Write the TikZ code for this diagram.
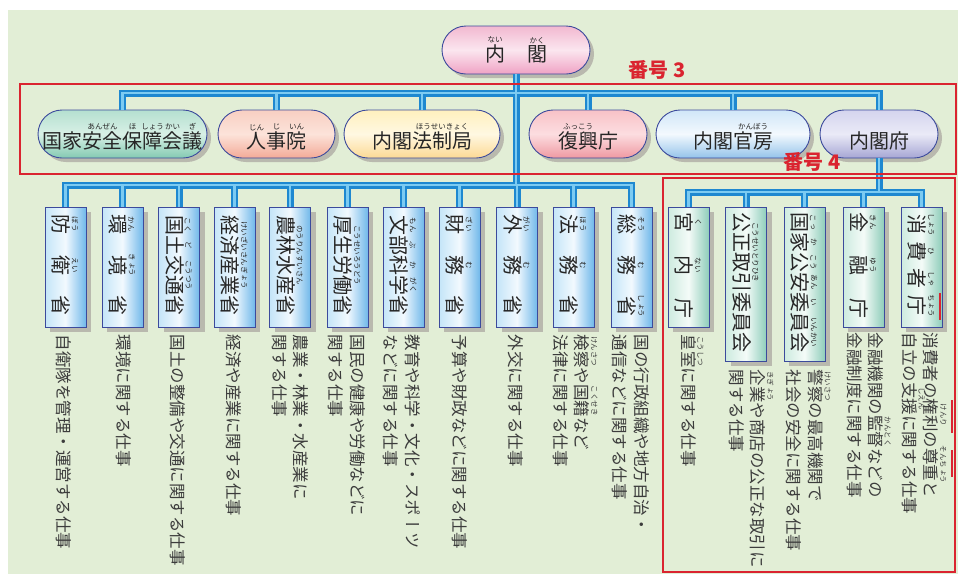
\documentclass[tikz,border=0pt]{standalone}
\usepackage{fontspec}
\setmainfont{Noto Sans CJK JP}
\newfontfamily\vjp[Vertical=RotatedGlyphs]{Noto Sans CJK JP}
\usetikzlibrary{shadows,calc}

\definecolor{bgC}{HTML}{E2EED6}
\definecolor{edgeC}{HTML}{3C4A9C}
\definecolor{shadowC}{HTML}{B9B9AE}
\definecolor{pipeD}{HTML}{1E88D0}
\definecolor{pipeL}{HTML}{7CCBF2}
\definecolor{redC}{HTML}{DA2430}
\definecolor{descC}{HTML}{3C3C3C}
\definecolor{pinkT}{HTML}{F2B8D0}
\definecolor{pinkM}{HTML}{FBE6EF}
\definecolor{pinkB}{HTML}{EFA2C4}
\definecolor{tealT}{HTML}{B5E0D0}
\definecolor{tealM}{HTML}{D8F0E6}
\definecolor{tealB}{HTML}{84CAB2}
\definecolor{peachT}{HTML}{F8CFC2}
\definecolor{peachM}{HTML}{FCE3DA}
\definecolor{peachB}{HTML}{F3AA97}
\definecolor{yelT}{HTML}{FFF0BE}
\definecolor{yelM}{HTML}{FFF8E2}
\definecolor{yelB}{HTML}{FCD994}
\definecolor{roseT}{HTML}{F8C2C7}
\definecolor{roseM}{HTML}{FCDDE0}
\definecolor{roseB}{HTML}{EF99A2}
\definecolor{skyT}{HTML}{D0E6F8}
\definecolor{skyM}{HTML}{F3F9FE}
\definecolor{skyB}{HTML}{94C3EA}
\definecolor{lavT}{HTML}{D4D4EE}
\definecolor{lavM}{HTML}{EAEAF7}
\definecolor{lavB}{HTML}{A6A6D4}
\definecolor{mboxL}{HTML}{C4E5F8}
\definecolor{mboxM}{HTML}{F2F9FE}
\definecolor{mboxR}{HTML}{70B8EA}
\definecolor{rboxL}{HTML}{CDEBDF}
\definecolor{rboxM}{HTML}{F4FBF8}
\definecolor{rboxR}{HTML}{8ECDBA}

\newcommand\furi[2]{\leavevmode\begingroup
  \setbox0\hbox{#1}%
  \setbox2\hbox{\fontsize{7.5}{7.5}\selectfont #2}%
  \setbox2\hbox{\raise\dimexpr\ht0+\dp2+1.2pt\relax\box2}%
  \ht2=0pt \dp2=0pt
  \hbox to\wd0{\hss\box2\hss}\kern-\wd0 \box0\endgroup}

\begin{document}
\begin{tikzpicture}[x=1pt,y=-1pt,
  pill/.style={rectangle, rounded corners=24pt, draw=edgeC, line width=0.9pt,
    minimum height=48pt, inner sep=0pt, text=black!85,
    font=\fontsize{20}{20}\selectfont, text height=30pt, text depth=2pt,
    drop shadow={shadow xshift=4pt, shadow yshift=-4pt, fill=shadowC, opacity=1}},
  mbox/.style={rectangle, draw=edgeC, line width=0.9pt, minimum width=41pt,
    minimum height=120pt, inner sep=0pt,
    left color=mboxL, right color=mboxR, middle color=mboxM,
    drop shadow={shadow xshift=5pt, shadow yshift=-5pt, fill=shadowC, opacity=1}},
  rbox/.style={mbox, left color=rboxL, right color=rboxR, middle color=rboxM},
  vtitle/.style={rotate=-90, inner sep=0pt, text=black!85,
    font=\vjp\fontsize{20}{20}\selectfont},
  desc/.style={rotate=-90, anchor=west, inner sep=0pt, align=left, text=descC,
    font=\vjp\fontsize{16.5}{21.5}\selectfont},
  pipeo/.style={draw=pipeD, line width=7pt},
  pipei/.style={draw=pipeL, line width=2.2pt},
  frame/.style={draw=redC, line width=2pt},
  redtick/.style={draw=redC, line width=2pt},
  lbl/.style={text=redC, inner sep=0pt, font=\bfseries\fontsize{20}{20}\selectfont}]

    \useasboundingbox (0,0) rectangle (958,574);
    \fill[white] (0,0) rectangle (958,574);
    \fill[bgC] (8,10) rectangle (958,574);

    \node[pill, minimum width=148pt, text height=24pt, top color=pinkT, bottom color=pinkB, middle color=pinkM] (naikaku) at (516,50) {\furi{内}{ない}\hspace{22pt}\furi{閣}{かく}};

    \node[pill, minimum width=169pt, top color=tealT, bottom color=tealB, middle color=tealM] (anpo) at (122.5,134) {国家\furi{安全}{あんぜん}\furi{保}{ほ}\furi{障}{しょう}\furi{会}{かい}\furi{議}{ぎ}};
    \node[pill, minimum width=117pt, top color=peachT, bottom color=peachB, middle color=peachM] (jinjiin) at (276.5,134) {\furi{人}{じん}\furi{事}{じ}\furi{院}{いん}};
    \node[pill, minimum width=156pt, top color=yelT, bottom color=yelB, middle color=yelM] (hosei) at (422,134) {内閣\furi{法制局}{ほうせいきょく}};
    \node[pill, minimum width=118pt, top color=roseT, bottom color=roseB, middle color=roseM] (fukko) at (588,134) {\furi{復興}{ふっこう}庁};
    \node[pill, minimum width=154pt, top color=skyT, bottom color=skyB, middle color=skyM] (kanbo) at (733,134) {内閣\furi{官房}{かんぼう}};
    \node[pill, minimum width=118pt, top color=lavT, bottom color=lavB, middle color=lavM] (naikakufu) at (879,134) {内閣府};

    \node[mbox] (boei) at (65.5,267) {};
    \node[mbox] (kankyo) at (122.5,267) {};
    \node[mbox] (kokudo) at (179,267) {};
    \node[mbox] (keisan) at (234.5,267) {};
    \node[mbox] (norin) at (290,267) {};
    \node[mbox] (kosei) at (347.5,267) {};
    \node[mbox] (monka) at (403.5,267) {};
    \node[mbox] (zaimu) at (459.5,267) {};
    \node[mbox] (gaimu) at (517,267) {};
    \node[mbox] (homu) at (573.5,267) {};
    \node[mbox] (somu) at (631.5,267) {};

    \node[rbox] (kunai) at (688.5,267) {};
    \node[rbox, minimum height=154pt] (kotori) at (746,284) {};
    \node[rbox, minimum height=154pt] (kokko) at (804.5,284) {};
    \node[rbox] (kinyu) at (863.5,267) {};
    \node[rbox] (shohi) at (921.5,267) {};

    \node[vtitle] (boeiT) at ($(boei)+(-4,-2)$) {\furi{防}{ぼう}\hspace{21pt}\furi{衛}{えい}\hspace{21pt}省};
    \node[vtitle] (kankyoT) at ($(kankyo)+(-4,-2)$) {\furi{環}{かん}\hspace{21pt}\furi{境}{きょう}\hspace{21pt}省};
    \node[vtitle] (kokudoT) at ($(kokudo)+(-4,-2)$) {\furi{国}{こく}\furi{土}{ど}\furi{交通}{こうつう}省};
    \node[vtitle] (keisanT) at ($(keisan)+(-4,-2)$) {\furi{経済産業}{けいざいさんぎょう}省};
    \node[vtitle] (norinT) at ($(norin)+(-4,-2)$) {\furi{農林水産}{のうりんすいさん}省};
    \node[vtitle] (koseiT) at ($(kosei)+(-4,-2)$) {\furi{厚生労働}{こうせいろうどう}省};
    \node[vtitle] (monkaT) at ($(monka)+(-4,-2)$) {\furi{文}{もん}\furi{部}{ぶ}\furi{科}{か}\furi{学}{がく}省};
    \node[vtitle] (zaimuT) at ($(zaimu)+(-4,-2)$) {\furi{財}{ざい}\hspace{21pt}\furi{務}{む}\hspace{21pt}省};
    \node[vtitle] (gaimuT) at ($(gaimu)+(-4,-2)$) {\furi{外}{がい}\hspace{21pt}\furi{務}{む}\hspace{21pt}省};
    \node[vtitle] (homuT) at ($(homu)+(-4,-2)$) {\furi{法}{ほう}\hspace{21pt}\furi{務}{む}\hspace{21pt}省};
    \node[vtitle] (somuT) at ($(somu)+(-4,-2)$) {\furi{総}{そう}\hspace{21pt}\furi{務}{む}\hspace{21pt}\furi{省}{しょう}};

    \node[vtitle] (kunaiT) at ($(kunai)+(-4,-2)$) {\furi{宮}{く}\hspace{23pt}\furi{内}{ない}\hspace{23pt}庁};
    \node[vtitle] (kotoriT) at ($(kotori)+(-4,-2)$) {\furi{公正取引}{こうせいとりひき}委員会};
    \node[vtitle] (kokkoT) at ($(kokko)+(-4,-2)$) {\furi{国}{こっ}\furi{家}{か}\furi{公}{こう}\furi{安}{あん}\furi{委}{い}\furi{員会}{いんかい}};
    \node[vtitle] (kinyuT) at ($(kinyu)+(-4,-2)$) {\furi{金}{きん}\hspace{23pt}\furi{融}{ゆう}\hspace{23pt}庁};
    \node[vtitle] (shohiT) at ($(shohi)+(-4,-2)$) {\furi{消}{しょう}\hspace{7pt}\furi{費}{ひ}\hspace{7pt}\furi{者}{しゃ}\hspace{7pt}\furi{庁}{ちょう}};

    \node[desc] (boeiD) at ($(boei.south)+(-1.5,7)$) {自衛隊を管理・運営する仕事};
    \node[desc] (kankyoD) at ($(kankyo.south)+(1,7)$) {環境に関する仕事};
    \node[desc] (kokudoD) at ($(kokudo.south)+(-1.5,7)$) {国土の整備や交通に関する仕事};
    \node[desc] (keisanD) at ($(keisan.south)+(-0.5,7)$) {経済や産業に関する仕事};
    \node[desc] (norinD) at ($(norin.south)+(0,7)$) {農業・林業・水産業に\\関する仕事};
    \node[desc] (koseiD) at ($(kosei.south)+(-1,7)$) {国民の健康や労働などに\\関する仕事};
    \node[desc] (monkaD) at ($(monka.south)+(-1.5,7)$) {教育や科学・文化・スポーツ\\などに関する仕事};
    \node[desc] (zaimuD) at ($(zaimu.south)+(0.5,7)$) {予算や財政などに関する仕事};
    \node[desc] (gaimuD) at ($(gaimu.south)+(-1.5,7)$) {外交に関する仕事};
    \node[desc] (homuD) at ($(homu.south)+(-2,7)$) {\furi{検察}{けんさつ}や\furi{国籍}{こくせき}など\\法律に関する仕事};
    \node[desc] (somuD) at ($(somu.south)+(-0.5,7)$) {国の行政組織や地方自治・\\通信などに関する仕事};

    \node[desc] (kunaiD) at ($(kunai.south)+(0,7)$) {\furi{皇室}{こうしつ}に関する仕事};
    \node[desc] (kotoriD) at ($(kotori.south)+(1.5,8)$) {\furi{企業}{きぎょう}や商店の公正な取引に\\関する仕事};
    \node[desc] (kokkoD) at ($(kokko.south)+(0.5,8)$) {\furi{警察}{けいさつ}の最高機関で\\社会の安全に関する仕事};
    \node[desc] (kinyuD) at ($(kinyu.south)+(1.5,5)$) {金融機関の\furi{監督}{かんとく}などの\\金融制度に関する仕事};
    \node[desc] (shohiD) at ($(shohi.south)+(-1,5)$) {消費者の\furi{権利}{けんり}の\furi{尊重}{そんちょう}と\\自立の\furi{支援}{しえん}に関する仕事};

    \coordinate (b3) at (516,93);
    \coordinate (b11) at (516,185);
    \coordinate (b5) at (879,192);

    \foreach \p in {pipeo,pipei}{
      \draw[\p] (naikaku.south) -- (naikaku.south |- b11);
      \draw[\p] (anpo.north) -- (anpo.north |- b3) -- (naikakufu.north |- b3) -- (naikakufu.north);
      \path[\p] (jinjiin.north |- b3) edge (jinjiin.north);
      \path[\p] (hosei.north |- b3) edge (hosei.north);
      \path[\p] (fukko.north |- b3) edge (fukko.north);
      \path[\p] (kanbo.north |- b3) edge (kanbo.north);
      \draw[\p] (boei.north) -- (boei.north |- b11) -- (somu.north |- b11) -- (somu.north);
      \path[\p] (kankyo.north |- b11) edge (kankyo.north);
      \path[\p] (kokudo.north |- b11) edge (kokudo.north);
      \path[\p] (keisan.north |- b11) edge (keisan.north);
      \path[\p] (norin.north |- b11) edge (norin.north);
      \path[\p] (kosei.north |- b11) edge (kosei.north);
      \path[\p] (monka.north |- b11) edge (monka.north);
      \path[\p] (zaimu.north |- b11) edge (zaimu.north);
      \path[\p] (gaimu.north |- b11) edge (gaimu.north);
      \path[\p] (homu.north |- b11) edge (homu.north);
      \draw[\p] (naikakufu.south) -- (naikakufu.south |- b5);
      \draw[\p] (kunai.north) -- (kunai.north |- b5) -- (shohi.north |- b5) -- (shohi.north);
      \path[\p] (kotori.north |- b5) edge (kotori.north);
      \path[\p] (kokko.north |- b5) edge (kokko.north);
      \path[\p] (kinyu.north |- b5) edge (kinyu.north);
    }

    \draw[frame] (20,84) rectangle (956,174);
    \draw[frame] (663,178) rectangle (955,572);
    \node[lbl] (ban3) at (657,70) {番号 3};
    \node[lbl] (ban4) at (812,162) {番号 4};

    \draw[redtick] (939.5,293) -- (939.5,320);
    \draw[redtick] (952,400) -- (952,433);
    \draw[redtick] (952,450) -- (952,477);
\end{tikzpicture}
\end{document}
